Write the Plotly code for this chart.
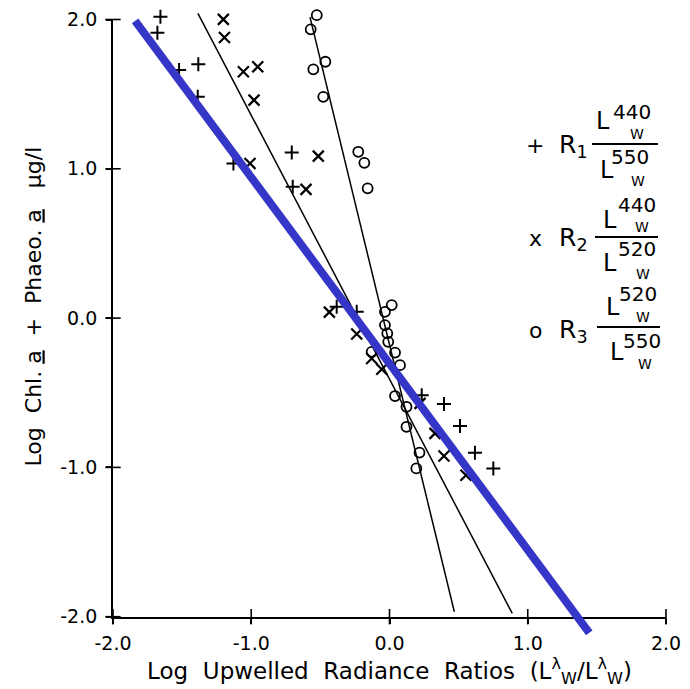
import plotly.graph_objects as go

# ---------------- data ----------------
r1_x = [-1.657, -1.679, -1.522, -1.383, -1.387, -1.129, -0.707, -0.700,
        -0.382, -0.237, 0.233, 0.394, 0.510, 0.618, 0.751]
r1_y = [2.018, 1.911, 1.661, 1.701, 1.482, 1.036, 1.110, 0.879,
        0.076, 0.042, -0.516, -0.576, -0.723, -0.902, -1.007]

r2_x = [-1.202, -1.194, -1.057, -0.953, -0.980, -1.009, -0.515, -0.604,
        -0.435, -0.237, -0.129, -0.056, 0.221, 0.329, 0.394, 0.553]
r2_y = [2.001, 1.880, 1.650, 1.683, 1.460, 1.036, 1.085, 0.862,
        0.040, -0.107, -0.270, -0.342, -0.571, -0.772, -0.924, -1.052]

r3_x = [-0.526, -0.570, -0.464, -0.551, -0.479, -0.226, -0.182, -0.158,
        0.016, -0.033, -0.033, -0.016, -0.009, 0.040, 0.076, -0.129,
        0.040, 0.123, 0.123, 0.217, 0.194]
r3_y = [2.029, 1.934, 1.717, 1.666, 1.482, 1.114, 1.040, 0.869,
        0.087, 0.042, -0.047, -0.102, -0.159, -0.231, -0.315, -0.226,
        -0.522, -0.594, -0.728, -0.901, -1.007]

fit2_x = [-1.386, 0.888]
fit2_y = [2.041, -1.978]
fit3_x = [-0.575, 0.469]
fit3_y = [2.016, -1.967]
fit1_x = [-1.840, 1.445]
fit1_y = [1.991, -2.108]

tick_vals = [-2, -1, 0, 1, 2]
tick_text = ["-2.0", "-1.0", "0.0", "1.0", "2.0"]

x_title = "Log  Upwelled  Radiance  Ratios  (L<sup>λ</sup><sub>W</sub>/L<sup>λ</sup><sub>W</sub>)"
y_title = "Log  Chl. <u>a</u>  +  Phaeo. <u>a</u>   μg/l"

legend_symbols = ["+", "x", "o"]
legend_names = ["R<sub>1</sub>", "R<sub>2</sub>", "R<sub>3</sub>"]
legend_num = ["440", "440", "520"]
legend_den = ["550", "520", "550"]

# ---------------- layout geometry ----------------
F = "DejaVu Sans"
W, H = 690, 689
ML, MR, MT, MB = 113, 24, 10, 40
plot_w = W - ML - MR
plot_h = H - MT - MB
Y_TOP_PX, Y_BOT_PX = 19.5, 616.7


def fx(px):
    return (px - ML) / plot_w


def fy(py):
    return (H - MB - py) / plot_h


dom_lo, dom_hi = fy(Y_BOT_PX), fy(Y_TOP_PX)
per = (dom_hi - dom_lo) / 4.0
y2_lo = -2 - dom_lo / per
y2_hi = 2 + (1 - dom_hi) / per

fig = go.Figure()

# data marks on the extended twin axes (x2, y2): same data scale as the visible
# axes, but a little more room so points just above 2.0 stay visible
fig.add_trace(go.Scatter(x=r1_x, y=r1_y, mode="markers", xaxis="x2", yaxis="y2", cliponaxis=False,
                         marker=dict(symbol="cross-thin", size=10, line=dict(width=2, color="black")),
                         showlegend=False))
fig.add_trace(go.Scatter(x=r2_x, y=r2_y, mode="markers", xaxis="x2", yaxis="y2", cliponaxis=False,
                         marker=dict(symbol="x-thin", size=11, line=dict(width=2.2, color="black")),
                         showlegend=False))
fig.add_trace(go.Scatter(x=r3_x, y=r3_y, mode="markers", xaxis="x2", yaxis="y2", cliponaxis=False,
                         marker=dict(symbol="circle-open", size=10, color="black",
                                     line=dict(width=1.8, color="black")),
                         showlegend=False))

# crossing tick marks (both sides of each axis line), placed at the tick values
fig.add_trace(go.Scatter(x=tick_vals, y=[-2] * len(tick_vals), mode="markers", cliponaxis=False,
                         marker=dict(symbol="line-ns", size=11, line=dict(width=1.6, color="black")),
                         showlegend=False, hoverinfo="skip"))
fig.add_trace(go.Scatter(x=[-2] * len(tick_vals), y=tick_vals, mode="markers", cliponaxis=False,
                         marker=dict(symbol="line-ew", size=11, line=dict(width=1.6, color="black")),
                         showlegend=False, hoverinfo="skip"))

# regression lines (also on x2/y2, so they are not clipped at y=-2)
for lx, ly in [(fit2_x, fit2_y), (fit3_x, fit3_y)]:
    fig.add_trace(go.Scatter(x=lx, y=ly, mode="lines", xaxis="x2", yaxis="y2",
                             line=dict(color="black", width=1.5), showlegend=False))
fig.add_trace(go.Scatter(x=fit1_x, y=fit1_y, mode="lines", xaxis="x2", yaxis="y2",
                         line=dict(color="#3535c8", width=8), showlegend=False))

tick_style = dict(ticklen=5, tickwidth=1.6, tickcolor="black")

fig.update_layout(
    template="none",
    width=W, height=H,
    margin=dict(l=ML, r=MR, t=MT, b=MB, autoexpand=False),
    paper_bgcolor="white", plot_bgcolor="rgba(0,0,0,0)",
    font=dict(family=F, color="black"),
    xaxis=dict(range=[-2, 2], domain=[0, 1], anchor="y", tickvals=tick_vals, ticktext=tick_text,
               showgrid=False, zeroline=False, automargin=False,
               showline=True, linecolor="black", linewidth=1.8,
               ticks="outside", **tick_style,
               tickfont=dict(size=19, family=F, color="black"), ticklabelstandoff=4,
               title=dict(text=x_title, font=dict(size=23, family=F, color="black"), standoff=8)),
    yaxis=dict(range=[-2, 2], domain=[dom_lo, dom_hi], anchor="x", tickvals=tick_vals, ticktext=tick_text,
               showgrid=False, zeroline=False, automargin=False,
               showline=True, linecolor="black", linewidth=1.8,
               ticks="outside", **tick_style,
               tickfont=dict(size=19, family=F, color="black"), ticklabelstandoff=5),
    xaxis2=dict(range=[-2, 2], domain=[0, 1], anchor="y2", visible=False),
    yaxis2=dict(range=[y2_lo, y2_hi], domain=[0, 1], anchor="x2", visible=False),
)

# y-axis title as rotated text
fig.add_annotation(text=y_title, x=fx(33), y=fy(306.5), xref="paper", yref="paper",
                   showarrow=False, textangle=-90, xanchor="center", yanchor="middle",
                   font=dict(size=22, family=F, color="black"))

# ---------------- custom legend ----------------
rows = [
    dict(sym=(535, 145), name=(557, 146), bar=(592, 658, 144),
         nL=(603, 121), nN=(632, 112), nW=(637, 134), dL=(607, 170), dN=(630, 157), dW=(638, 181)),
    dict(sym=(535, 238), name=(557, 239), bar=(595, 658, 237),
         nL=(610, 220), nN=(637, 205), nW=(642, 227), dL=(610, 263), dN=(637, 249), dW=(643, 274)),
    dict(sym=(535, 330), name=(557, 331), bar=(597, 660, 327),
         nL=(613, 307), nN=(638, 294), nW=(643, 317), dL=(617, 352), dN=(642, 341), dW=(645, 364)),
]


def ann(text, p, size, xanchor="center"):
    fig.add_annotation(text=text, x=fx(p[0]), y=fy(p[1]), xref="paper", yref="paper",
                       showarrow=False, xanchor=xanchor, yanchor="middle",
                       font=dict(size=size, family=F, color="black"))


for i, r in enumerate(rows):
    ann(legend_symbols[i], r["sym"], 22)
    ann(legend_names[i], r["name"], 25, xanchor="left")
    x0, x1, yb = r["bar"]
    fig.add_shape(type="line", xref="paper", yref="paper", x0=fx(x0), x1=fx(x1), y0=fy(yb), y1=fy(yb),
                  line=dict(color="black", width=1.8))
    ann("L", r["nL"], 24)
    ann(legend_num[i], r["nN"], 20)
    ann("W", r["nW"], 14)
    ann("L", r["dL"], 24)
    ann(legend_den[i], r["dN"], 20)
    ann("W", r["dW"], 14)

fig.write_html("out.html")
